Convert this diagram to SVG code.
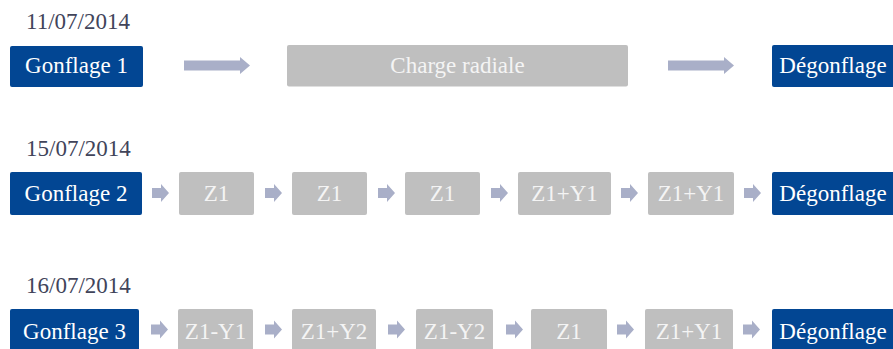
<svg xmlns="http://www.w3.org/2000/svg" width="893" height="349" viewBox="0 0 893 349" font-family="'Liberation Serif', 'Times New Roman', serif">
<style>
text{font-family:'Liberation Serif','Times New Roman',serif;font-size:23px}
.date{fill:#41445a}
.blue{fill:#024693}
.grey{fill:#bfbfbf}
.lbl{fill:#ffffff;text-anchor:middle}
.glbl{fill:#f4f4f4;text-anchor:middle}
.arr{fill:#a9afc8}
</style>
<defs>
<path id="big" d="M0,-5 H56 V-8.5 L66,0 L56,8.5 V5 H0 Z"/>
<path id="sm" d="M0,-5 H9 V-9 L17,0 L9,9 V5 H0 Z"/>
</defs>
<rect width="893" height="349" fill="#ffffff"/>
<g id="dates">
<text class="date" x="26" y="29">11/07/2014</text>
<text class="date" x="26" y="156">15/07/2014</text>
<text class="date" x="26" y="293">16/07/2014</text>
</g>
<g id="connectors" class="arr">
<use href="#big" x="184" y="65.5"/>
<use href="#big" x="668" y="65.5"/>
<use href="#sm" x="152" y="193"/>
<use href="#sm" x="265" y="193"/>
<use href="#sm" x="378" y="193"/>
<use href="#sm" x="491" y="193"/>
<use href="#sm" x="621" y="193"/>
<use href="#sm" x="744" y="193"/>
<use href="#sm" x="151" y="329.5"/>
<use href="#sm" x="265" y="329.5"/>
<use href="#sm" x="388" y="329.5"/>
<use href="#sm" x="506" y="329.5"/>
<use href="#sm" x="617" y="329.5"/>
<use href="#sm" x="743" y="329.5"/>
</g>
<g id="r1-gonflage"><rect class="blue" x="10" y="46" width="133" height="41" rx="2"/><text class="lbl" x="76.5" y="73">Gonflage 1</text></g>
<g id="r1-charge"><rect class="grey" x="287" y="45" width="341" height="41.5" rx="2"/><text class="glbl" x="457.5" y="73" font-size="23.5">Charge radiale</text></g>
<g id="r1-degonflage"><rect class="blue" x="772" y="45" width="124" height="42" rx="2"/><text class="lbl" x="833" y="73">Dégonflage</text></g>

<g id="r2-gonflage"><rect class="blue" x="10" y="172" width="132" height="43" rx="2"/><text class="lbl" x="76" y="200.5">Gonflage 2</text></g>
<g id="r2-z1a"><rect class="grey" x="179" y="172" width="75" height="43" rx="2"/><text class="glbl" x="216.5" y="200.5">Z1</text></g>
<g id="r2-z1b"><rect class="grey" x="292" y="172" width="75" height="43" rx="2"/><text class="glbl" x="329.5" y="200.5">Z1</text></g>
<g id="r2-z1c"><rect class="grey" x="405" y="172" width="75" height="43" rx="2"/><text class="glbl" x="442.5" y="200.5">Z1</text></g>
<g id="r2-z1y1a"><rect class="grey" x="518" y="172" width="93" height="43" rx="2"/><text class="glbl" x="564.5" y="200.5">Z1+Y1</text></g>
<g id="r2-z1y1b"><rect class="grey" x="648" y="172" width="86" height="43" rx="2"/><text class="glbl" x="691" y="200.5">Z1+Y1</text></g>
<g id="r2-degonflage"><rect class="blue" x="772" y="172" width="124" height="43" rx="2"/><text class="lbl" x="833" y="200.5">Dégonflage</text></g>

<g id="r3-gonflage"><rect class="blue" x="10" y="309" width="129" height="43" rx="2"/><text class="lbl" x="74.5" y="339">Gonflage 3</text></g>
<g id="r3-z1my1"><rect class="grey" x="178" y="309" width="75" height="43" rx="2"/><text class="glbl" x="215.5" y="339">Z1-Y1</text></g>
<g id="r3-z1py2"><rect class="grey" x="292" y="309" width="84" height="43" rx="2"/><text class="glbl" x="334" y="339">Z1+Y2</text></g>
<g id="r3-z1my2"><rect class="grey" x="416" y="309" width="77" height="43" rx="2"/><text class="glbl" x="454.5" y="339">Z1-Y2</text></g>
<g id="r3-z1"><rect class="grey" x="531" y="309" width="76" height="43" rx="2"/><text class="glbl" x="569" y="339">Z1</text></g>
<g id="r3-z1py1"><rect class="grey" x="645" y="309" width="88" height="43" rx="2"/><text class="glbl" x="689" y="339">Z1+Y1</text></g>
<g id="r3-degonflage"><rect class="blue" x="772" y="309" width="124" height="43" rx="2"/><text class="lbl" x="833" y="339">Dégonflage</text></g>
</svg>
